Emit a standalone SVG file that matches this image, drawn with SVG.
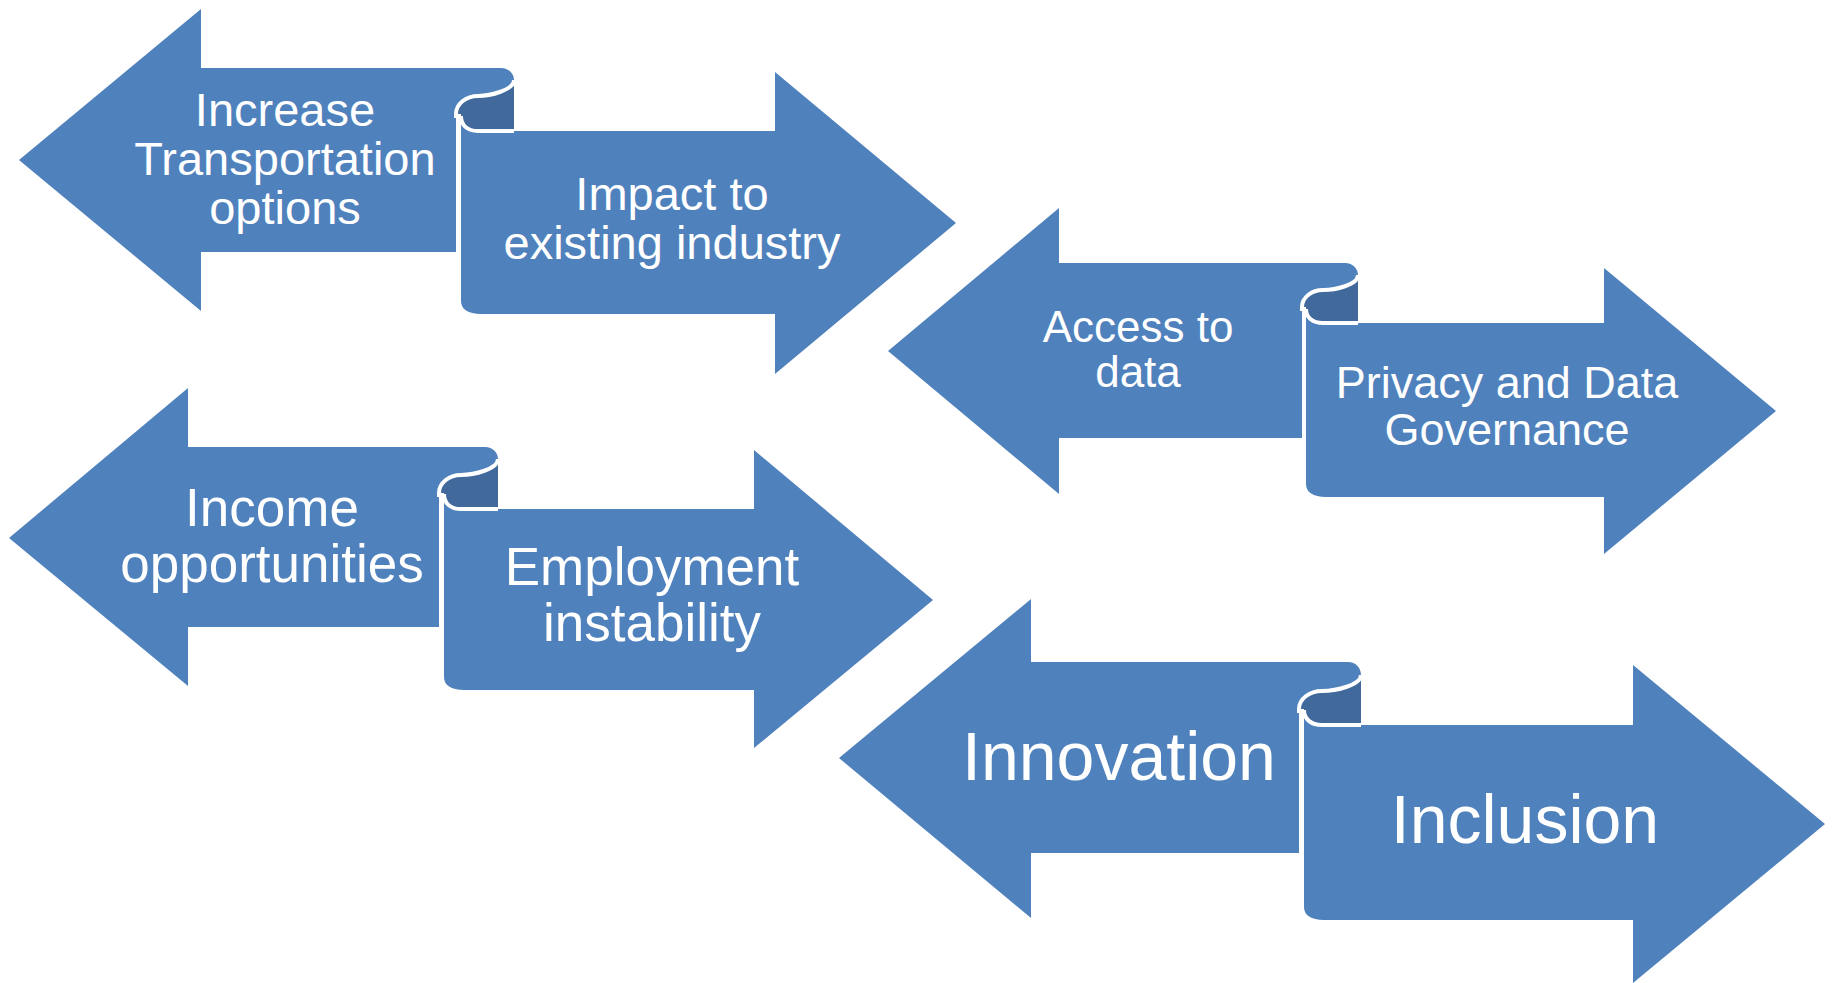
<svg xmlns="http://www.w3.org/2000/svg" width="1833" height="983" viewBox="0 0 1833 983">
<style>
.arr{fill:#4F81BD}
.roll{fill:#41699C}
.edge{fill:none;stroke:#FFFFFF;stroke-width:4;stroke-linecap:butt;stroke-linejoin:round}
.t{fill:#FFFFFF;font-family:"Liberation Sans",Arial,sans-serif;text-anchor:middle}
</style>
<rect width="1833" height="983" fill="#FFFFFF"/>
<g id="pair1">
<g transform="translate(456,68)">
<path class="roll" d="M0,46 A22 18 0 0 1 22,28 C34,28 58,22 58,12 L58,63 L5,63 L5,46 Z"/>
<path id="node-increase" class="arr" d="M-437,92 L-255,-59 L-255,0 L45,0 C53,0 58,6 58,12 C58,22 34,28 22,28 A22 18 0 0 0 0,46 L0,184 L-255,184 L-255,243 Z"/>
<path id="node-impact" class="arr" d="M5,48 C5,57 11,63 22,63 L319,63 L319,4 L500,155 L319,306 L319,246 L25,246 C12,246 5,241 5,233 Z"/>
<path class="edge" d="M0,50 L0,46 A22 18 0 0 1 22,28 C34,28 58,22 58,12 M5,48 C5,57 11,63 22,63 L58,63"/>
</g>
<text class="t" font-size="47" x="285" y="126">Increase</text>
<text class="t" font-size="47" x="285" y="175">Transportation</text>
<text class="t" font-size="47" x="285" y="224">options</text>
<text class="t" font-size="47" x="672" y="210">Impact to</text>
<text class="t" font-size="47" x="672" y="259">existing industry</text>
</g>
<g id="pair2">
<g transform="translate(1302,263)">
<path class="roll" d="M0,44 A21 17 0 0 1 21,27 C33,27 56,22 56,12 L56,60 L4,60 L4,44 Z"/>
<path id="node-access" class="arr" d="M-414,88 L-243,-55 L-243,0 L43,0 C51,0 56,6 56,12 C56,22 33,27 21,27 A21 17 0 0 0 0,44 L0,175 L-243,175 L-243,231 Z"/>
<path id="node-privacy" class="arr" d="M4,46 C4,54 10,60 21,60 L302,60 L302,5 L474,148 L302,291 L302,234 L24,234 C11,234 4,229 4,221 Z"/>
<path class="edge" d="M0,48 L0,44 A21 17 0 0 1 21,27 C33,27 56,22 56,12 M4,46 C4,54 10,60 21,60 L56,60"/>
</g>
<text class="t" font-size="44" x="1138" y="342">Access to</text>
<text class="t" font-size="44" x="1138" y="387">data</text>
<text class="t" font-size="45" x="1507" y="398">Privacy and Data</text>
<text class="t" font-size="45" x="1507" y="445">Governance</text>
</g>
<g id="pair3">
<g transform="translate(439,447)">
<path class="roll" d="M0,46 A22 18 0 0 1 22,28 C35,28 59,22 59,12 L59,62 L5,62 L5,46 Z"/>
<path id="node-income" class="arr" d="M-430,91 L-251,-59 L-251,0 L46,0 C54,0 59,6 59,12 C59,22 35,28 22,28 A22 18 0 0 0 0,46 L0,180 L-251,180 L-251,239 Z"/>
<path id="node-employment" class="arr" d="M5,47 C5,56 11,62 22,62 L315,62 L315,3 L494,153 L315,301 L315,243 L25,243 C12,243 5,238 5,230 Z"/>
<path class="edge" d="M0,50 L0,46 A22 18 0 0 1 22,28 C35,28 59,22 59,12 M5,47 C5,56 11,62 22,62 L59,62"/>
</g>
<text class="t" font-size="53" x="272" y="526">Income</text>
<text class="t" font-size="53" x="272" y="582">opportunities</text>
<text class="t" font-size="53" x="652" y="585">Employment</text>
<text class="t" font-size="53" x="652" y="641">instability</text>
</g>
<g id="pair4">
<g transform="translate(1299,662)">
<path class="roll" d="M0,47 A23 18 0 0 1 23,29 C37,29 62,23 62,13 L62,63 L5,63 L5,47 Z"/>
<path id="node-innovation" class="arr" d="M-460,96 L-268,-63 L-268,0 L49,0 C57,0 62,6 62,13 C62,23 37,29 23,29 A23 18 0 0 0 0,47 L0,191 L-268,191 L-268,256 Z"/>
<path id="node-inclusion" class="arr" d="M5,48 C5,57 12,63 23,63 L334,63 L334,3 L526,162 L334,321 L334,258 L25,258 C12,258 5,253 5,245 Z"/>
<path class="edge" d="M0,51 L0,47 A23 18 0 0 1 23,29 C37,29 62,23 62,13 M5,48 C5,57 12,63 23,63 L62,63"/>
</g>
<text class="t" font-size="68" x="1119" y="780">Innovation</text>
<text class="t" font-size="68" x="1525" y="843">Inclusion</text>
</g>
<g id="connectors"/>
</svg>
